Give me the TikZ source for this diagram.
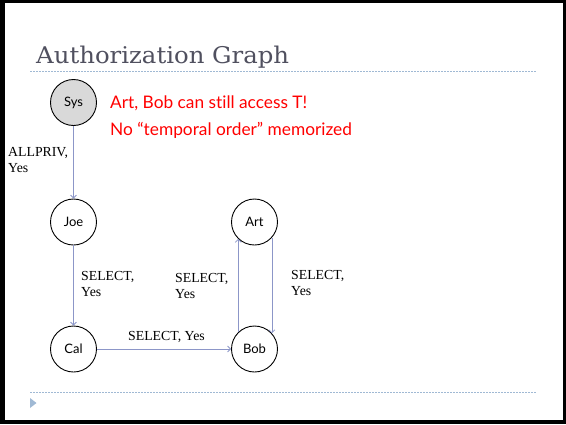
\documentclass[tikz,border=0pt]{standalone}
\usepackage{fontspec}
\setmainfont{Liberation Serif}
\newfontfamily\gill[Ligatures=NoCommon]{Lato}
\newfontfamily\titlefont[FakeStretch=1.06]{DejaVu Serif}
\usetikzlibrary{arrows.meta}
\definecolor{edgec}{RGB}{140,150,200}
\definecolor{dotc}{RGB}{160,185,212}
\definecolor{titlec}{RGB}{80,80,95}
\definecolor{sysfill}{RGB}{217,217,217}
\begin{document}
\begin{tikzpicture}[x=1pt,y=-1pt,
  person/.style={circle,draw=black,line width=0.9pt,minimum size=46pt,inner sep=0pt,
    font=\gill\fontsize{13}{15}\selectfont},
  edge/.style={draw=edgec,line width=0.75pt,-{Straight Barb[length=3pt,width=6pt]}},
  lbl/.style={font=\fontsize{13.8}{16}\selectfont,align=left,anchor=base west,inner sep=0pt},
  note/.style={anchor=base west,text=red,inner sep=0pt,font=\gill\fontsize{17.3}{20}\selectfont},
  rule/.style={draw=dotc,line width=0.8pt,dash pattern=on 1.5pt off 1.5pt}
  ]
\fill[black] (0,0) rectangle (566,424);
\fill[white] (5,3) rectangle (563,420);
\useasboundingbox (0,0) rectangle (566,424);

\node[anchor=base west,inner sep=0pt,text=titlec,font=\titlefont\fontsize{23}{26}\selectfont] (title) at (36,63.5) {Authorization Graph};
\draw[rule] (30,71) -- (537,71);
\draw[rule] (30,392) -- (537,392);
\fill[dotc] (30,398) -- (36.5,403) -- (30,408) -- cycle;

\node[person,fill=sysfill] (sys) at (73.5,102.5) {Sys};
\node[person] (joe) at (73.5,222) {Joe};
\node[person] (cal) at (73.5,349) {Cal};
\node[person] (art) at (254.5,222) {Art};
\node[person] (bob) at (254.5,349) {Bob};

\node[note] (n1) at (110,108) {Art, Bob can still access T!};
\node[note] (n2) at (110,135) {No “temporal order” memorized};

\draw[edge] (sys) -- (joe);
\draw[edge] (joe) -- (cal);
\draw[edge] (cal) -- (bob);
\draw[edge] (bob.134) -- (art.226);
\draw[edge] (art.-42) -- (bob.42);

\node[lbl] (l1) at (8,172) {ALLPRIV,\\Yes};
\node[lbl] (l2) at (81,296) {SELECT,\\Yes};
\node[lbl] (l3) at (128,340) {SELECT, Yes};
\node[lbl] (l4) at (175,298) {SELECT,\\Yes};
\node[lbl] (l5) at (291,295) {SELECT,\\Yes};
\end{tikzpicture}
\end{document}
